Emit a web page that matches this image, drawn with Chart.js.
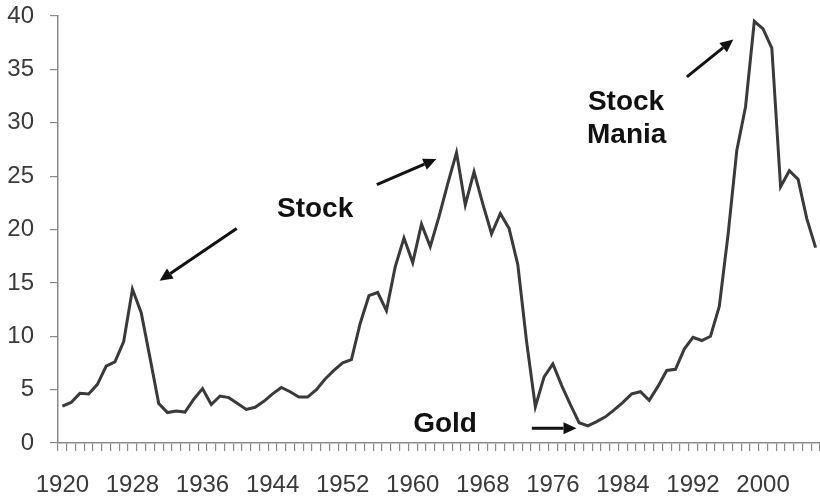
<!DOCTYPE html>
<html>
<head>
<meta charset="utf-8">
<script src="https://cdn.jsdelivr.net/npm/chart.js@4/dist/chart.umd.min.js"></script>
<style>
  html, body { margin: 0; padding: 0; background: #ffffff; }
  canvas { display: block; }
</style>
</head>
<body>
<canvas id="c" width="820" height="498"></canvas>
<script>
// Years (categories)
const years = [];
for (let y = 1920; y <= 2006; y++) years.push(String(y));

// Ratio values (1920..2006)
const ratio = [
  3.45, 3.8, 4.65, 4.6, 5.5, 7.2, 7.6, 9.5, 14.4, 12.2,
  8.0, 3.7, 2.85, 3.0, 2.9, 4.1, 5.1, 3.6, 4.4, 4.25,
  3.7, 3.15, 3.35, 3.9, 4.6, 5.2, 4.8, 4.3, 4.3, 5.0,
  6.0, 6.8, 7.5, 7.8, 11.2, 13.8, 14.1, 12.4, 16.5, 19.2,
  16.9, 20.5, 18.4, 21.2, 24.3, 27.2, 22.3, 25.4, 22.4, 19.6,
  21.5, 20.1, 16.7, 9.5, 3.4, 6.2, 7.4, 5.4, 3.6, 1.9,
  1.6, 2.0, 2.45, 3.1, 3.8, 4.6, 4.8, 4.0, 5.3, 6.8,
  6.9, 8.8, 9.9, 9.6, 10.0, 12.8, 19.5, 27.4, 31.5, 39.5,
  38.8, 37.0, 24.0, 25.5, 24.7, 21.0, 18.3
];

// Y tick values
const yTicks = [0, 5, 10, 15, 20, 25, 30, 35, 40];
// X label every 8 years from 1920
const xLabelStep = 8;

// Annotations in data coordinates (category index, value)
const labels = [
  { text: "Stock", k: 24.5, v: 21.2 },
  { text: "Stock", k: 60.0, v: 31.2 },
  { text: "Mania", k: 59.9, v: 28.1 },
  { text: "Gold",  k: 40.05, v: 1.06 }
];
const arrows = [
  { from: [19.9, 20.1], to: [11.1, 15.2] },
  { from: [35.9, 24.2], to: [42.7, 26.6] },
  { from: [71.3, 34.3], to: [76.6, 37.8] },
  { from: [53.6, 1.38], to: [58.7, 1.38] }
];

const FONT = "'Liberation Sans', Arial, sans-serif";

const annotationPlugin = {
  id: 'annot',
  afterDraw(chart) {
    const ctx = chart.ctx;
    const xs = chart.scales.x, ys = chart.scales.y;
    const x0 = xs.getPixelForValue(0);
    const step = xs.getPixelForValue(1) - x0;
    const px = k => x0 + k * step;
    const py = v => ys.getPixelForValue(v);
    ctx.save();
    ctx.fillStyle = '#111111';
    ctx.font = "bold 28px " + FONT;
    ctx.textAlign = 'left';
    ctx.textBaseline = 'alphabetic';
    labels.forEach(l => ctx.fillText(l.text, px(l.k), py(l.v)));
    ctx.strokeStyle = '#111111';
    ctx.lineWidth = 3;
    arrows.forEach(a => {
      const x1 = px(a.from[0]), y1 = py(a.from[1]);
      const x2 = px(a.to[0]), y2 = py(a.to[1]);
      const ang = Math.atan2(y2 - y1, x2 - x1);
      const L = 13, W = 6;
      const bx = x2 - L * Math.cos(ang), by = y2 - L * Math.sin(ang);
      ctx.beginPath();
      ctx.moveTo(x1, y1);
      ctx.lineTo(bx, by);
      ctx.stroke();
      ctx.beginPath();
      ctx.moveTo(x2, y2);
      ctx.lineTo(bx + W * Math.sin(ang), by - W * Math.cos(ang));
      ctx.lineTo(bx - W * Math.sin(ang), by + W * Math.cos(ang));
      ctx.closePath();
      ctx.fill();
    });
    ctx.restore();
  }
};

new Chart(document.getElementById('c'), {
  type: 'line',
  data: {
    labels: years,
    datasets: [{
      data: ratio,
      borderColor: '#3a3a3a',
      borderWidth: 3,
      pointRadius: 0,
      tension: 0,
      fill: false
    }]
  },
  options: {
    responsive: false,
    animation: false,
    devicePixelRatio: 1,
    layout: { padding: { top: 16, right: 0, bottom: 0, left: 0 } },
    plugins: { legend: { display: false }, tooltip: { enabled: false } },
    scales: {
      x: {
        type: 'category',
        offset: true,
        grid: {
          offset: true,
          drawOnChartArea: false,
          drawTicks: true,
          tickLength: 8,
          color: '#8a8a8a',
          lineWidth: 1.2
        },
        border: { display: true, color: '#8a8a8a', width: 1.5 },
        ticks: {
          autoSkip: false,
          maxRotation: 0,
          minRotation: 0,
          padding: 20,
          color: '#3a3a3a',
          font: { family: FONT, size: 24 },
          callback: function(val, idx) {
            return (idx % xLabelStep === 0) ? years[idx] : '';
          }
        },
        afterFit(scale) {
          scale.height = 55;
          scale.paddingLeft = 0;
          scale.paddingRight = 0;
        }
      },
      y: {
        min: 0,
        max: 40,
        afterBuildTicks(scale) { scale.ticks = yTicks.map(v => ({ value: v })); },
        grid: {
          drawOnChartArea: false,
          drawTicks: true,
          tickLength: 8,
          color: '#8a8a8a',
          lineWidth: 1.2
        },
        border: { display: true, color: '#8a8a8a', width: 1.5 },
        ticks: {
          padding: 16,
          color: '#3a3a3a',
          font: { family: FONT, size: 24 }
        },
        afterFit(scale) {
          scale.width = 58;
          scale.paddingTop = 0;
          scale.paddingBottom = 0;
        }
      }
    }
  },
  plugins: [annotationPlugin]
});
</script>
</body>
</html>
